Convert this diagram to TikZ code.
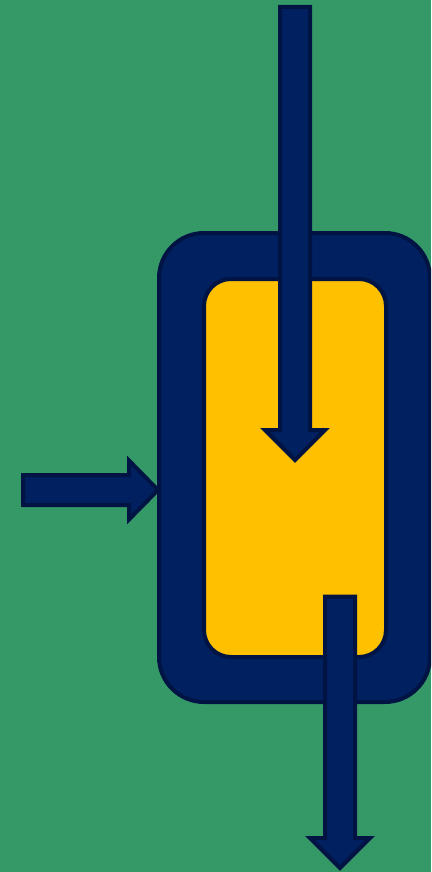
\documentclass[tikz,border=0pt]{standalone}
\definecolor{bggreen}{HTML}{359967}
\definecolor{navy}{HTML}{002060}
\definecolor{navyedge}{HTML}{001444}
\definecolor{amber}{HTML}{FFC000}
\tikzset{
  shell/.style={fill=navy,draw=navyedge,line width=4pt,rounded corners=45pt},
  core/.style={fill=amber,draw=navyedge,line width=4pt,rounded corners=27pt},
  flow/.style={fill=navy,draw=navyedge,line width=4pt,miter limit=10}
}
\begin{document}
\begin{tikzpicture}[x=1pt,y=-1pt]
\useasboundingbox (0,0) rectangle (431,872);
\clip (0,0) rectangle (431,872);
\fill[bggreen] (0,0) rectangle (431,872);
\draw[shell] (159,233) rectangle (430,702);
\draw[core] (204,279) rectangle (386,657);
% top inlet arrow
\draw[flow] (280,7) -- (310,7) -- (310,430) -- (325,430) -- (295,460) -- (265,430) -- (280,430) -- cycle;
% left inlet arrow
\draw[flow] (23,475) -- (129,475) -- (129,460.5) -- (158,490) -- (129,519.5) -- (129,505) -- (23,505) -- cycle;
% bottom outlet arrow
\draw[flow] (325,596.5) -- (355,596.5) -- (355,838) -- (370,838) -- (340,868) -- (310,838) -- (325,838) -- cycle;
\end{tikzpicture}
\end{document}
